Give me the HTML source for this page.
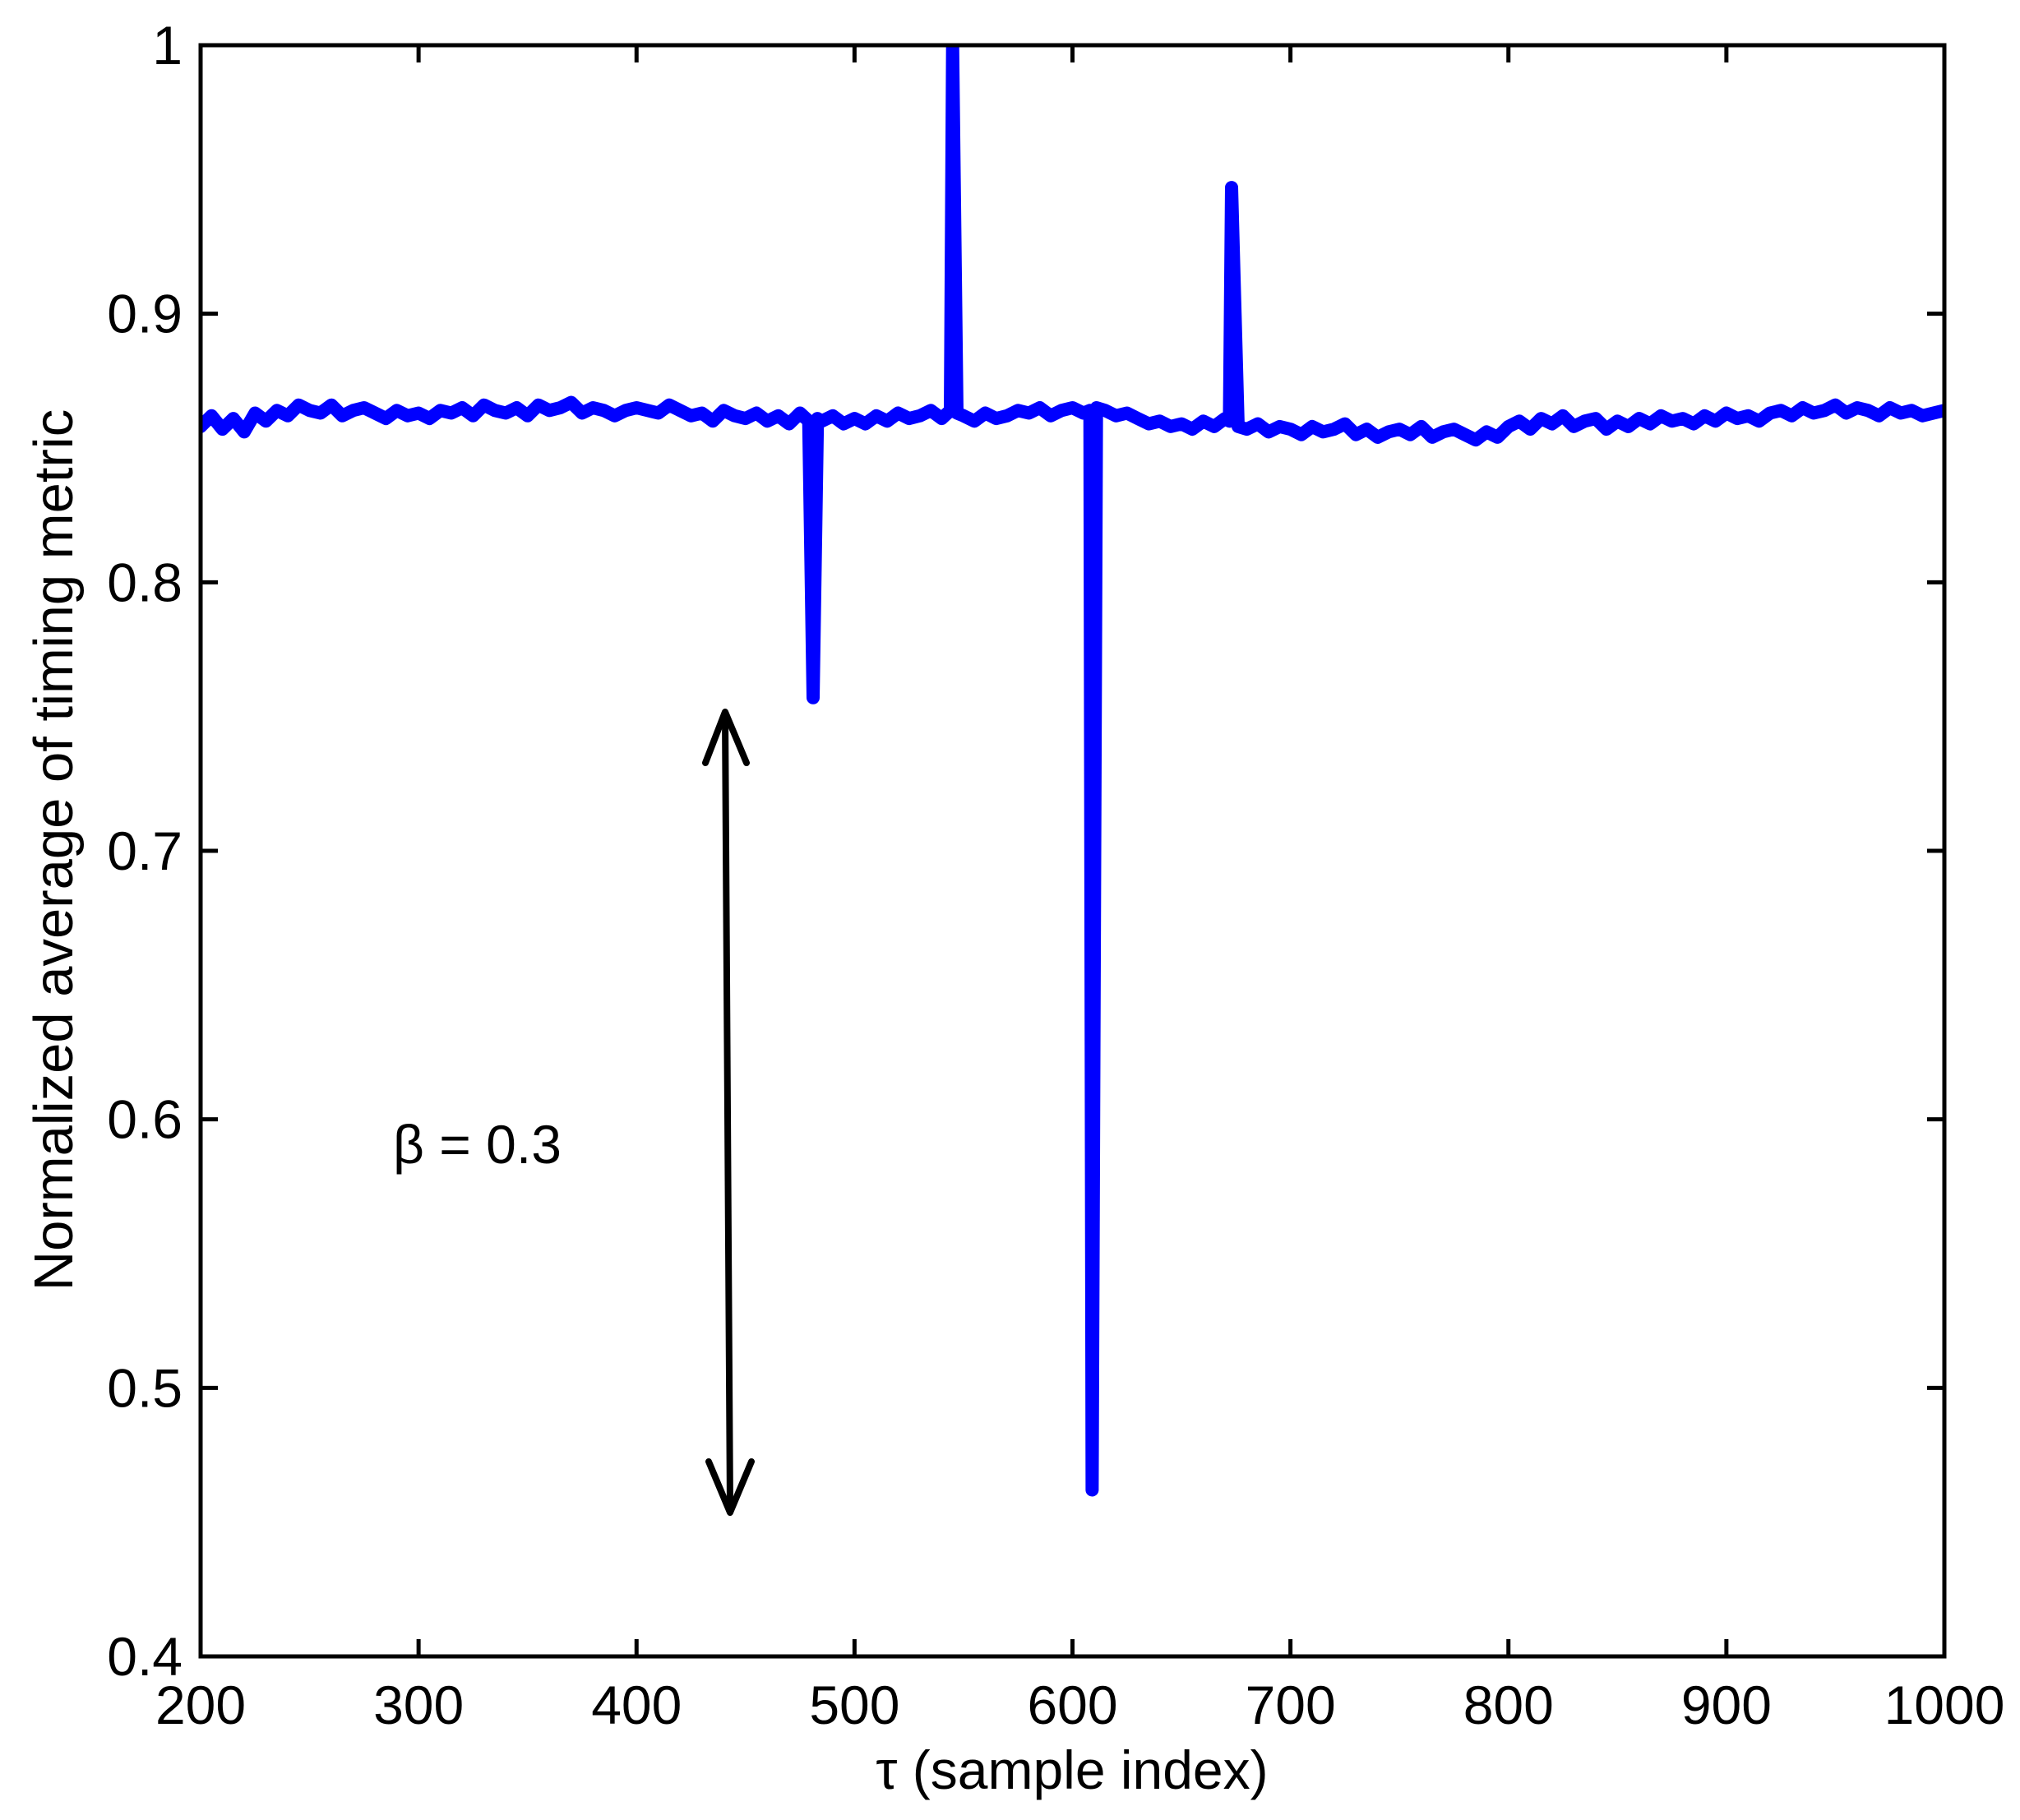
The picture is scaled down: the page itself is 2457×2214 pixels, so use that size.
<!DOCTYPE html>
<html><head><meta charset="utf-8"><style>
html,body{margin:0;padding:0;background:#fff}
svg{display:block}
text{font-family:"Liberation Sans",Arial,sans-serif;fill:#000}
</style></head><body>
<svg id="chart" width="2457" height="2214" xmlns="http://www.w3.org/2000/svg">
<defs><clipPath id="clip"><rect x="244" y="55" width="2121" height="1960"/></clipPath></defs>
<rect x="0" y="0" width="2457" height="2214" fill="#fff"/>
<g id="series" clip-path="url(#clip)"></g>
<g id="axes"></g>
<text x="1304" y="2176" font-size="66" text-anchor="middle">τ (sample index)</text>
<text transform="translate(88,1034) rotate(-90)" font-size="67" text-anchor="middle">Normalized average of timing metric</text>
<text x="478" y="1415" font-size="66">β = 0.3</text>
<g stroke="#000" stroke-width="8" fill="none" stroke-linecap="round" stroke-linejoin="round">
<line x1="882" y1="868" x2="888" y2="1836"/>
<polyline points="858,928 882,866 908,928"/>
<polyline points="862,1778 888,1840 914,1778"/>
</g>
</svg>
<script>
const xTicks=[200,300,400,500,600,700,800,900,1000];
const yTicks=[0.4,0.5,0.6,0.7,0.8,0.9,1];
const yTickLabels=["0.4","0.5","0.6","0.7","0.8","0.9","1"];
const baseStart=200, baseStep=5;
const baseValues=[.858,.862,.857,.861,.856,.863,.860,.864,.862,.866,
.864,.863,.866,.862,.864,.865,.863,.861,.864,.862,
.863,.861,.864,.863,.865,.862,.866,.864,.863,.865,
.862,.866,.864,.865,.867,.863,.865,.864,.862,.864,
.865,.864,.863,.866,.864,.862,.863,.860,.864,.862,
.861,.863,.860,.862,.859,.863,.861,.860,.862,.859,
.861,.859,.862,.860,.863,.861,.862,.864,.861,.863,
.862,.860,.863,.861,.862,.864,.863,.865,.862,.864,
.865,.863,.866,.864,.862,.863,.861,.859,.860,.858,
.859,.857,.860,.858,.861,.860,.857,.859,.856,.858,
.857,.855,.858,.856,.857,.859,.855,.857,.854,.856,
.857,.855,.858,.854,.856,.857,.855,.853,.856,.854,
.858,.860,.857,.861,.859,.862,.858,.860,.861,.857,
.860,.858,.861,.859,.862,.860,.861,.859,.862,.860,
.863,.861,.862,.860,.863,.864,.862,.865,.863,.864,
.866,.863,.865,.864,.862,.865,.863,.864,.862,.863,.864];
const spikeX=[479,481,483,544,545,547,608,609,611,672,673,676];
const spikeY=[.860,.757,.861,.864,1.0,.863,.864,.462,.865,.860,.947,.858];

const L=244,R=2365,T=55,B=2015;
const sx=v=>L+(v-200)/(1000-200)*(R-L);
const sy=v=>B-(v-0.4)/(1-0.4)*(B-T);
const NS="http://www.w3.org/2000/svg";
let pts=[];
baseValues.forEach((v,i)=>{const x=baseStart+i*baseStep; if(!spikeX.some(s=>Math.abs(s-x)<=1)) pts.push([x,v]);});
spikeX.forEach((x,i)=>pts.push([x,spikeY[i]]));
pts.sort((a,b)=>a[0]-b[0]);
const path=document.createElementNS(NS,'path');


path.setAttribute('d',pts.map((p,i)=>(i?'L':'M')+sx(p[0]).toFixed(1)+','+sy(p[1]).toFixed(1)).join(''));
path.setAttribute('fill','none');path.setAttribute('stroke','#0000ff');path.setAttribute('stroke-width','16');
path.setAttribute('stroke-linejoin','round');path.setAttribute('stroke-linecap','round');
document.getElementById('series').appendChild(path);

const ax=document.getElementById('axes');
const box=document.createElementNS(NS,'rect');


box.setAttribute('x',L);box.setAttribute('y',T);box.setAttribute('width',R-L);box.setAttribute('height',B-T);
box.setAttribute('fill','none');box.setAttribute('stroke','#000');box.setAttribute('stroke-width','5');
ax.appendChild(box);
function line(x1,y1,x2,y2,name){const l=document.createElementNS(NS,'line');


l.setAttribute('x1',x1);l.setAttribute('y1',y1);l.setAttribute('x2',x2);l.setAttribute('y2',y2);
l.setAttribute('stroke','#000');l.setAttribute('stroke-width','5');ax.appendChild(l);}
function text(x,y,s,anchor,name){const t=document.createElementNS(NS,'text');


t.setAttribute('x',x);t.setAttribute('y',y);t.setAttribute('font-size','66');t.setAttribute('text-anchor',anchor);t.textContent=s;ax.appendChild(t);}
xTicks.forEach(v=>{const x=sx(v);line(x,B,x,B-21,'x-tick');line(x,T,x,T+21,'x-tick-top');text(x,2097,String(v),'middle','x-tick-label');});
yTicks.forEach((v,i)=>{const y=sy(v);line(L,y,L+21,y,'y-tick');line(R,y,R-21,y,'y-tick-right');text(222,y+23,yTickLabels[i],'end','y-tick-label');});
</script>
</body></html>
